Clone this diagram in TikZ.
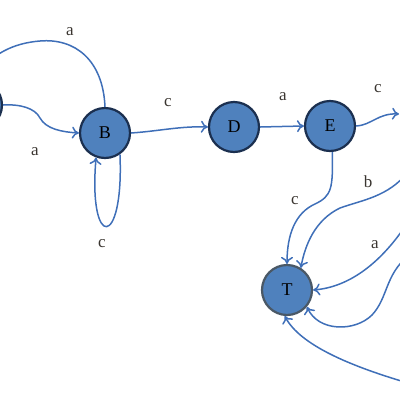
\documentclass[tikz,border=0pt]{standalone}
\usepackage{fontspec}
\setmainfont{Liberation Serif}
\usetikzlibrary{arrows.meta}
\definecolor{nodefill}{HTML}{4F81BD}
\definecolor{nodeedge}{HTML}{1B2F4F}
\definecolor{tedge}{HTML}{4A5866}
\definecolor{edgecol}{HTML}{3F6FB8}
\definecolor{lblcol}{HTML}{3A3530}
\tikzset{
  state/.style={circle,fill=nodefill,draw=nodeedge,line width=2.2pt,minimum size=50pt,inner sep=0pt,font=\fontsize{18}{18}\selectfont},
  edge/.style={draw=edgecol,line width=1.5pt,-{To[length=7pt,width=12pt]}},
  lbl/.style={text=lblcol,font=\fontsize{17}{17}\selectfont}
}
\begin{document}
\begin{tikzpicture}[x=1pt,y=-1pt]
\useasboundingbox (0,0) rectangle (400,400);
\clip (0,0) rectangle (400,400);
\node[state] (L) at (-23,105) {};
\node[state] (B) at (105,133) {B};
\node[state] (D) at (234,127) {D};
\node[state] (E) at (330,126) {E};
\node[state,draw=tedge] (T) at (287,290) {T};
\coordinate (La) at (-12,62);
\coordinate (Rc) at (399,114);
\coordinate (Rb) at (408,172);
\coordinate (Ra) at (408,222);
\coordinate (Rd) at (408,256);
\coordinate (Re) at (408,383);
% edges
\draw[edge] (B.north) .. controls (103,60) and (75,38) .. (40,41) .. controls (15,43) and (0,52) .. (La);
\draw[edge] (L.east) .. controls (20,104) and (35,108) .. (40,118) .. controls (46,129) and (62,132) .. (B.west);
\draw[edge] (B.-55) .. controls (124,250) and (88,250) .. (B.-110);
\draw[edge] (B.east) .. controls (160,131) and (180,126) .. (D.west);
\draw[edge] (D.east) -- (E.west);
\draw[edge] (E.east) .. controls (372,125) and (378,113) .. (Rc);
\draw[edge] (E.-85) .. controls (333,188) and (332,196) .. (315,204) .. controls (295,213) and (287,235) .. (T.north);
\draw[edge] (Rb) .. controls (388,197) and (362,200) .. (340,208) .. controls (315,220) and (305,245) .. (T.58);
\draw[edge] (Ra) .. controls (382,262) and (350,287) .. (T.east);
\draw[edge] (Rd) .. controls (385,275) and (388,298) .. (372,315) .. controls (355,332) and (318,332) .. (T.-40);
\draw[edge] (Re) .. controls (350,366) and (300,345) .. (T.-95);
% labels
\node[lbl] (l1) at (70,32) {a};
\node[lbl] (l2) at (35,152) {a};
\node[lbl] (l3) at (102,244) {c};
\node[lbl] (l4) at (168,103) {c};
\node[lbl] (l5) at (283,97) {a};
\node[lbl] (l6) at (378,89) {c};
\node[lbl] (l7) at (295,201) {c};
\node[lbl] (l8) at (368,182) {b};
\node[lbl] (l9) at (375,245) {a};
\end{tikzpicture}
\end{document}
